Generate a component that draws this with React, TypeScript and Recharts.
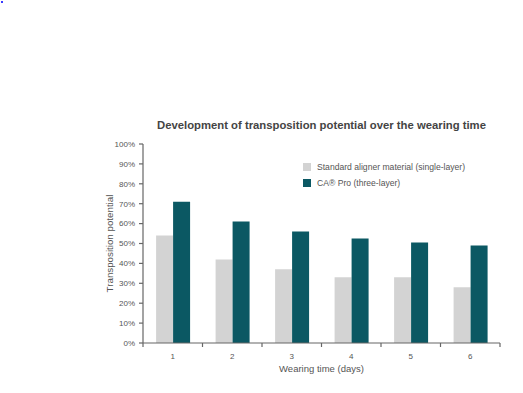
import React from 'react';
import { BarChart, Bar, XAxis, YAxis, Legend } from 'recharts';

const days = ['1', '2', '3', '4', '5', '6'];
const standardValues = [54, 42, 37, 33, 33, 28];
const caProValues = [71, 61, 56, 52.5, 50.5, 49];
const yTicks = [0, 10, 20, 30, 40, 50, 60, 70, 80, 90, 100];
const seriesNames = ['Standard aligner material (single-layer)', 'CA® Pro (three-layer)'];
const seriesColors = ['#d3d3d3', '#0b5863'];

const data = days.map((d, i) => ({ day: d, standard: standardValues[i], capro: caProValues[i] }));

const FONT = "'Liberation Sans', Arial, sans-serif";
const AXIS = '#666';
const TEXT = '#555';

const XTick = (props: any) => {
  const { x, y, payload, width, index } = props;
  const half = typeof payload.offset === 'number' && payload.offset > 0 ? payload.offset : width / days.length / 2;
  const idx = typeof index === 'number' ? index : payload.index;
  return (
    <g>
      <line x1={x - half} x2={x - half} y1={y} y2={y + 4} stroke={AXIS} strokeWidth={1.2} />
      {idx === days.length - 1 && <line x1={x + half} x2={x + half} y1={y} y2={y + 4} stroke={AXIS} strokeWidth={1.2} />}
      <text x={x} y={y + 16} textAnchor="middle" fill={TEXT} fontSize={8} fontFamily={FONT}>
        {payload.value}
      </text>
    </g>
  );
};

const LegendContent = () => (
  <div style={{ fontFamily: FONT, fontSize: 8.6, color: TEXT, lineHeight: '16px', whiteSpace: 'nowrap' }}>
    {seriesNames.map((n, i) => (
      <div key={n} style={{ display: 'flex', alignItems: 'center', height: 16 }}>
        <span style={{ display: 'inline-block', width: 8, height: 8, background: seriesColors[i], marginRight: 6 }} />
        <span>{n}</span>
      </div>
    ))}
  </div>
);

export default function App() {
  return (
    <div style={{ position: 'absolute', left: 0, top: 0, width: 523, height: 393, background: '#fff' }}>
      <div style={{ position: 'absolute', left: 1, top: 1, width: 2, height: 2, background: '#3a3aff' }} />
      <div
        style={{
          position: 'absolute',
          left: 143,
          width: 357,
          top: 119,
          textAlign: 'center',
          fontFamily: FONT,
          fontWeight: 'bold',
          fontSize: 11.3,
          lineHeight: '13px',
          color: '#444',
          whiteSpace: 'nowrap',
        }}
      >
        Development of transposition potential over the wearing time
      </div>
      <BarChart
        width={523}
        height={393}
        data={data}
        margin={{ top: 144, right: 23, left: 100, bottom: 0 }}
        barCategoryGap="22%"
        barGap={0}
      >
        <XAxis
          xAxisId="cat"
          dataKey="day"
          type="category"
          interval={0}
          tickLine={false}
          tickSize={0}
          tickMargin={0}
          tick={<XTick />}
          axisLine={{ stroke: AXIS, strokeWidth: 1.2 }}
          height={50}
          label={{
            content: (p: any) => {
              const vb = p.viewBox;
              return (
                <text x={vb.x + vb.width / 2} y={vb.y + 28.5} textAnchor="middle" fill={TEXT} fontSize={9.5} fontFamily={FONT}>
                  Wearing time (days)
                </text>
              );
            },
          }}
        />
        <XAxis xAxisId="top" orientation="top" type="number" domain={[0, 1]} allowDataOverflow height={0} tick={false} tickLine={false} axisLine={{ stroke: AXIS, strokeWidth: 1.2 }} />
        <YAxis
          yAxisId="left"
          domain={[0, 100]}
          ticks={yTicks}
          interval={0}
          width={43}
          tickFormatter={(v: number) => `${v}%`}
          tickSize={4}
          tickMargin={4}
          tick={{ fill: TEXT, fontSize: 8, fontFamily: FONT }}
          tickLine={{ stroke: AXIS, strokeWidth: 1.2 }}
          axisLine={{ stroke: AXIS, strokeWidth: 1.2 }}
          label={{
            content: (p: any) => {
              const vb = p.viewBox;
              const cx = vb.x + 9.5;
              const cy = vb.y + vb.height / 2;
              return (
                <text x={cx} y={cy} transform={`rotate(-90, ${cx}, ${cy})`} textAnchor="middle" dominantBaseline="central" fill={TEXT} fontSize={9.75} fontFamily={FONT}>
                  Transposition potential
                </text>
              );
            },
          }}
        />
        <YAxis yAxisId="right" orientation="right" width={0} domain={[0, 100]} tick={false} tickLine={false} axisLine={{ stroke: AXIS, strokeWidth: 1.2 }} />
        <Legend
          layout="vertical"
          align="center"
          verticalAlign="middle"
          content={<LegendContent />}
          wrapperStyle={{ position: 'absolute', left: 303, top: 159, width: 200 }}
        />
        <Bar xAxisId="cat" yAxisId="left" dataKey="standard" name={seriesNames[0]} fill={seriesColors[0]} isAnimationActive={false} />
        <Bar xAxisId="cat" yAxisId="left" dataKey="capro" name={seriesNames[1]} fill={seriesColors[1]} isAnimationActive={false} />
      </BarChart>
    </div>
  );
}
